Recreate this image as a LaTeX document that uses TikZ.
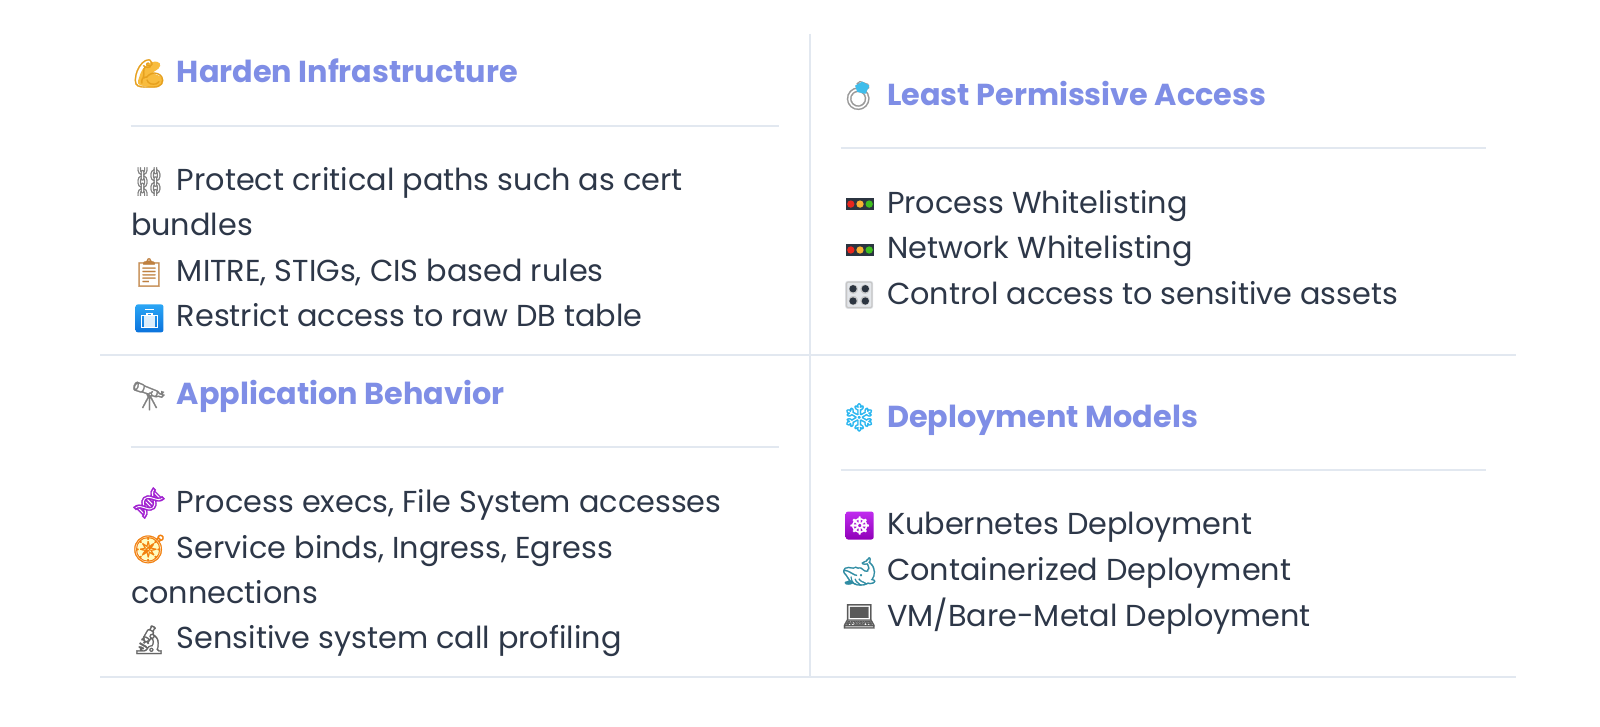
\documentclass[tikz,border=0pt]{standalone}
\usepackage{fontspec}
\setmainfont{Poppins}
\newfontfamily\emojifont[FakeBold=0.8]{Noto Emoji}
\newfontfamily\symbolfont[FakeBold=1]{DejaVu Sans}
\definecolor{rulegrey}{HTML}{E2E8F0}
\definecolor{bodyink}{HTML}{2D3748}
\definecolor{headink}{HTML}{7F8EE6}
\definecolor{musclefill}{HTML}{F8BC3E}
\definecolor{muscleline}{HTML}{E6A01E}
\definecolor{gemblue}{HTML}{3FBDEB}
\definecolor{whaleteal}{HTML}{2F8CA3}
\definecolor{lampred}{HTML}{E8261E}
\definecolor{lampamber}{HTML}{F9B233}
\definecolor{lampgreen}{HTML}{3FBF1F}
\definecolor{lampbody}{HTML}{2B3440}
\definecolor{flakeblue}{HTML}{29B6F0}
\definecolor{bagtop}{HTML}{2BA6F5}
\definecolor{bagbottom}{HTML}{0A72DC}
\definecolor{wheeltop}{HTML}{C02CEF}
\definecolor{wheelbottom}{HTML}{9000B8}
\definecolor{dnapurple}{HTML}{A020D0}
\definecolor{knobpanel}{HTML}{E3E6EA}
\tikzset{
  x=0.5102pt,y=-0.5102pt,
  rulel/.style={draw=rulegrey,line width=1pt},
  headtext/.style={anchor=base west,inner sep=0pt,text=headink,font=\fontsize{15.15}{18}\selectfont\bfseries},
  bodytext/.style={anchor=base west,inner sep=0pt,text=bodyink,font=\fontsize{15.15}{18}\selectfont},
  emo/.style={anchor=center,inner sep=0pt,font=\fontsize{14}{16}\emojifont},
  badge/.style={draw=none,rounded corners=1.2pt,minimum size=14pt,inner sep=0pt,anchor=center},
  lampbar/.style={draw=none,fill=lampbody,minimum width=14pt,minimum height=6pt,inner sep=0pt,anchor=center},
}
\begin{document}
\begin{tikzpicture}
\useasboundingbox[fill=white] (0,0) rectangle (1568,712.4);
% table rules
\draw[rulel] (98,348) -- (1486,348);
\draw[rulel] (98,663) -- (1486,663);
\draw[rulel] (793.5,33) -- (793.5,663);
\draw[rulel] (128,123.5) -- (763,123.5);
\draw[rulel] (824,145.5) -- (1456,145.5);
\draw[rulel] (128,438.5) -- (763,438.5);
\draw[rulel] (824,461) -- (1456,461);
% Harden Infrastructure
\fill[musclefill,rounded corners=2] (134,83) -- (139,68) -- (148,60) -- (158,61) -- (156,68) -- (148,71) -- (160,76) -- (160,83) -- (150,86) -- cycle;
\node[emo,text=muscleline] (e1) at (146,72) {💪};
\node[headtext] (h1) at (173,81) {Harden Infrastructure};
\node[emo,text=gray] (e2) at (146,178) {⛓};
\node[bodytext] (t1) at (173,187) {Protect critical paths such as cert};
\node[bodytext] (t2) at (128,231) {bundles};
\node[emo,text=brown] (e3) at (146,267) {📋};
\node[bodytext] (t3) at (173,276) {MITRE, STIGs, CIS based rules};
\node[badge,top color=bagtop,bottom color=bagbottom] (e4b) at (146.5,312) {};
\draw[white,line width=0.6pt] (138.5,309) rectangle (154.5,321);
\draw[white,line width=0.6pt] (142,303.5) -- (151,303.5);
\fill[white,opacity=.85] (141.5,310) rectangle (151.5,320);
\draw[white,line width=0.6pt] (144,310) -- (144,307.5) -- (149,307.5) -- (149,310);
\node[bodytext] (t4) at (173,320) {Restrict access to raw DB table};
% Least Permissive Access
\node[emo,text=gray!80,rotate=-20] (e5) at (842,94) {💍};
\fill[gemblue] (845,80) -- (852,84) -- (848,92) -- (840,90) -- (838,84) -- cycle;
\node[headtext] (h2) at (869,103) {Least Permissive Access};
\node[lampbar] (e6) at (842.8,200) {};
\foreach \c/\d in {lampred/-9,lampamber/0,lampgreen/9}{\fill[\c] (842.8+\d,200) circle (3.6);}
\node[bodytext] (t5) at (869,209) {Process Whitelisting};
\node[lampbar] (e7) at (842.8,245) {};
\foreach \c/\d in {lampred/-9,lampamber/0,lampgreen/9}{\fill[\c] (842.8+\d,245) circle (3.6);}
\node[bodytext] (t6) at (869,253) {Network Whitelisting};
\node[badge,fill=knobpanel] (e8b) at (842,289) {};
\node[emo,text=gray!45,font=\fontsize{13}{14}\emojifont] (e8) at (842,289) {🎛};
\foreach \p/\q in {-6/-6,6/-6,-6/6,6/6}{\fill[lampbody] (842+\p,289+\q) circle (3.6);}
\node[bodytext] (t7) at (869,298) {Control access to sensitive assets};
% Application Behavior
\node[emo,text=gray] (e9) at (146,388) {🔭};
\node[headtext] (h3) at (173,396) {Application Behavior};
\node[emo,text=dnapurple,rotate=-45] (e10) at (146,493) {🧬};
\node[bodytext] (t8) at (173,502) {Process execs, File System accesses};
\fill[yellow!25!white] (146,538) circle (11);
\node[emo,text=orange!80!brown] (e11) at (146,538) {🧭};
\node[bodytext] (t9) at (173,547) {Service binds, Ingress, Egress};
\node[bodytext] (t10) at (128,591) {connections};
\node[emo,text=gray!80!black] (e12) at (146,627) {🔬};
\node[bodytext] (t11) at (173,636) {Sensitive system call profiling};
% Deployment Models
\node[emo,text=flakeblue] (e13) at (842,409) {❄};
\node[headtext] (h4) at (869,419) {Deployment Models};
\node[badge,top color=wheeltop,bottom color=wheelbottom] (e14b) at (842.5,515) {};
\node[anchor=center,inner sep=0pt,text=white,font=\fontsize{12}{13}\symbolfont] (e14) at (842.5,515) {☸};
\node[bodytext] (t12) at (869,524) {Kubernetes Deployment};
\node[emo,text=whaleteal] (e15) at (842,560) {🐋};
\node[bodytext] (t13) at (869,569) {Containerized Deployment};
\node[emo,text=gray!70!black] (e16) at (842,604) {💻};
\node[bodytext] (t14) at (869,614) {VM/Bare-Metal Deployment};
\end{tikzpicture}
\end{document}
